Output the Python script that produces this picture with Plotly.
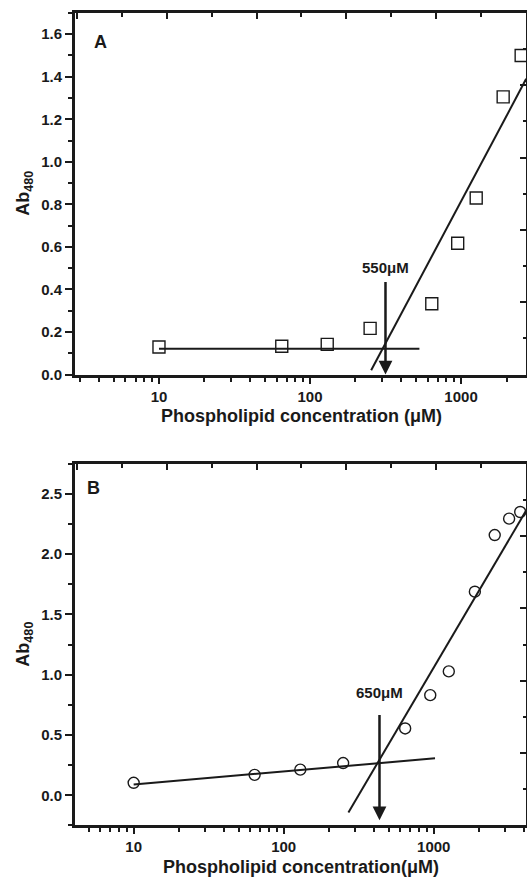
import math
import plotly.graph_objects as go

# ---------------- Panel A data ----------------
a_conc = [10, 65, 130, 250, 640, 950, 1260, 1900, 2500]
a_abs = [0.130, 0.133, 0.142, 0.217, 0.333, 0.617, 0.830, 1.305, 1.500]
a_base_x = [10, 530]
a_base_y = [0.122, 0.122]
a_rise_x = [254, 2700]
a_rise_y = [0.02, 1.39]
a_cmc = 316
a_arrow_top = 0.442
a_arrow_tip = 0.0
a_label = "550μM"
a_label_y = 0.504
a_yticks = [0.0, 0.2, 0.4, 0.6, 0.8, 1.0, 1.2, 1.4, 1.6]

# ---------------- Panel B data ----------------
b_conc = [10, 64, 129, 249, 645, 948, 1260, 1880, 2550, 3180, 3770]
b_abs = [0.104, 0.170, 0.213, 0.268, 0.555, 0.831, 1.028, 1.689, 2.159, 2.295, 2.350]
b_base_x = [10, 1020]
b_base_y = [0.09, 0.307]
b_rise_x = [270, 4120]
b_rise_y = [-0.142, 2.36]
b_cmc = 435
b_arrow_top = 0.678
b_arrow_tip = -0.207
b_label = "650μM"
b_label_y = 0.856
b_yticks = [0.0, 0.5, 1.0, 1.5, 2.0, 2.5]

x_major = [10, 100, 1000]
x_minor = [m * 10 ** k for k in range(0, 4) for m in range(2, 10)]

W, H = 528, 887
INK = "#1a1a1a"
FONT = "Liberation Sans, Arial, sans-serif"

# pixel layout
px_l, px_r = 75, 526
a_top, a_bot = 13, 378
b_top, b_bot = 468, 833

def xd(p):
    return p / W

def yd(p):
    return 1 - p / H

fig = go.Figure()

def add_lines(xs, ys, xa, ya):
    fig.add_trace(go.Scatter(x=xs, y=ys, mode="lines", line=dict(color=INK, width=2),
                             xaxis=xa, yaxis=ya, showlegend=False, hoverinfo="skip"))

# Panel A traces
add_lines(a_base_x, a_base_y, "x", "y")
add_lines(a_rise_x, a_rise_y, "x", "y")
fig.add_trace(go.Scatter(x=a_conc, y=a_abs, mode="markers",
                         marker=dict(symbol="square-open", size=12, color=INK,
                                     line=dict(width=1.4, color=INK)),
                         xaxis="x", yaxis="y", showlegend=False))
# Panel B traces
add_lines(b_base_x, b_base_y, "x3", "y3")
add_lines(b_rise_x, b_rise_y, "x3", "y3")
fig.add_trace(go.Scatter(x=b_conc, y=b_abs, mode="markers",
                         marker=dict(symbol="circle-open", size=11, color=INK,
                                     line=dict(width=1.4, color=INK)),
                         xaxis="x3", yaxis="y3", showlegend=False))

# invisible helpers so the mirror (top / right) frame axes get drawn
for xa, ya in [("x2", "y"), ("x", "y2"), ("x4", "y3"), ("x3", "y4")]:
    fig.add_trace(go.Scatter(x=[-100], y=[-100], xaxis=xa, yaxis=ya, mode="markers",
                             marker=dict(opacity=0), showlegend=False, hoverinfo="skip"))

tickfont = dict(family=FONT, size=15, color=INK, weight="bold")

def main_x(rng, anchor):
    return dict(type="log", range=rng, domain=[xd(px_l), xd(px_r)], anchor=anchor,
                tickmode="array", tickvals=x_major, ticktext=[str(v) for v in x_major],
                ticks="outside", ticklen=6, tickwidth=2, tickcolor=INK,
                minor=dict(tickmode="array", tickvals=x_minor, ticks="outside",
                           ticklen=4, tickwidth=2, tickcolor=INK, showgrid=False),
                showline=True, linewidth=3, linecolor=INK, mirror=True,
                showgrid=False, zeroline=False, tickfont=tickfont)

def main_y(rng, dom, ticks, minor_dt, anchor):
    return dict(range=rng, domain=dom, anchor=anchor,
                tickmode="array", tickvals=ticks, ticktext=[f"{t:.1f}" for t in ticks],
                ticks="outside", ticklen=7, tickwidth=2, tickcolor=INK,
                minor=dict(dtick=minor_dt, tick0=0, ticks="outside", ticklen=4,
                           tickwidth=2, tickcolor=INK, showgrid=False),
                showline=True, linewidth=3, linecolor=INK, mirror=False,
                showgrid=False, zeroline=False, tickfont=tickfont)

def mirror_x(over, anchor):
    return dict(type="linear", range=[-0.022, 5], overlaying=over, anchor=anchor, side="top",
                tickmode="linear", tick0=0, dtick=1, ticks="inside", ticklen=6, tickwidth=2,
                tickcolor=INK,
                minor=dict(dtick=0.5, tick0=0, ticks="inside", ticklen=4, tickwidth=2,
                           tickcolor=INK, showgrid=False),
                showticklabels=False, showline=True, linewidth=3, linecolor=INK,
                showgrid=False, zeroline=False)

def mirror_y(over, anchor):
    return dict(type="linear", range=[0, 5], overlaying=over, anchor=anchor, side="right",
                tickmode="linear", tick0=0, dtick=1, ticks="inside", ticklen=6, tickwidth=2,
                tickcolor=INK,
                minor=dict(dtick=0.5, tick0=0, ticks="inside", ticklen=3, tickwidth=2,
                           tickcolor=INK, showgrid=False),
                showticklabels=False, showline=True, linewidth=1.2, linecolor=INK,
                showgrid=False, zeroline=False)

a_dom = [yd(a_bot), yd(a_top)]
b_dom = [yd(b_bot), yd(b_top)]

fig.update_layout(
    width=W, height=H,
    margin=dict(l=0, r=0, t=0, b=0, pad=0),
    paper_bgcolor="white", plot_bgcolor="rgba(0,0,0,0)",
    showlegend=False,
    xaxis=main_x([0.444, 3.43], "y"),
    yaxis=main_y([0, 1.7], a_dom, a_yticks, 0.1, "x"),
    xaxis2=mirror_x("x", "y"),
    yaxis2=mirror_y("y", "x"),
    xaxis3=main_x([0.609, 3.615], "y3"),
    yaxis3=main_y([-0.25, 2.75], b_dom, b_yticks, 0.25, "x3"),
    xaxis4=mirror_x("x3", "y3"),
    yaxis4=mirror_y("y3", "x3"),
)

ann = []
title_font = dict(family=FONT, size=18, color=INK, weight="bold")
label_font = dict(family=FONT, size=15, color=INK, weight="bold")
panel_font = dict(family=FONT, size=18, color=INK, weight="bold")

# arrows
for xr, yr, cmc, top, tip in [("x", "y", a_cmc, a_arrow_top, a_arrow_tip),
                              ("x3", "y3", b_cmc, b_arrow_top, b_arrow_tip)]:
    ann.append(dict(x=math.log10(cmc), y=tip, ax=math.log10(cmc), ay=top,
                    xref=xr, yref=yr, axref=xr, ayref=yr, showarrow=True,
                    arrowhead=2, arrowsize=1.1, arrowwidth=2.5, arrowcolor=INK,
                    standoff=0, startstandoff=0, text=""))

ann.append(dict(x=math.log10(a_cmc), y=a_label_y, xref="x", yref="y", text=a_label,
                showarrow=False, font=label_font, xanchor="center", yanchor="middle"))
ann.append(dict(x=math.log10(b_cmc), y=b_label_y, xref="x3", yref="y3", text=b_label,
                showarrow=False, font=label_font, xanchor="center", yanchor="middle"))

ann.append(dict(x=(100 - px_l) / (px_r - px_l), y=(1.563 - 0) / 1.7, xref="x domain",
                yref="y domain", text="A", showarrow=False, font=panel_font,
                xanchor="center", yanchor="middle"))
ann.append(dict(x=(93 - px_l) / (px_r - px_l), y=(2.55 + 0.25) / 3.0, xref="x3 domain",
                yref="y3 domain", text="B", showarrow=False, font=panel_font,
                xanchor="center", yanchor="middle"))

ann.append(dict(x=xd(301), y=yd(420), xref="paper", yref="paper",
                text="Phospholipid concentration (μM)", showarrow=False,
                font=title_font, xanchor="center", yanchor="middle"))
ann.append(dict(x=xd(301), y=yd(875), xref="paper", yref="paper",
                text="Phospholipid concentration(μM)", showarrow=False,
                font=title_font, xanchor="center", yanchor="middle"))
for yc in [(a_top + a_bot) / 2, (b_top + b_bot) / 2]:
    ann.append(dict(x=xd(25), y=yd(yc), xref="paper", yref="paper",
                    text="Ab<sub>480</sub>", textangle=-90, showarrow=False,
                    font=title_font, xanchor="center", yanchor="middle"))

fig.update_layout(annotations=ann)
fig.write_html(
    "out.html",
    config={"displayModeBar": False},
    post_script="document.body.style.margin='0';document.body.style.overflow='hidden';",
)
